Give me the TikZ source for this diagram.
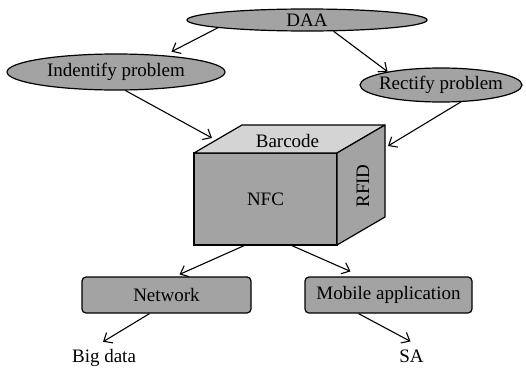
\documentclass[tikz,border=0pt]{standalone}
\usepackage{fontspec}
\setmainfont{Liberation Serif}
\usepackage{tikz}
\usetikzlibrary{calc,shapes.geometric,arrows.meta}

\definecolor{facegray}{HTML}{A3A3A3}
\definecolor{topgray}{HTML}{D4D4D4}

\begin{document}
\begin{tikzpicture}[>={Straight Barb[length=7pt,width=12pt]}, x=1pt, y=-1pt,
    every node/.style={font=\fontsize{19}{21}\selectfont},
    oval/.style={ellipse, draw, line width=1.2pt, fill=facegray, inner sep=0pt},
    tab/.style={draw, line width=1.2pt, fill=facegray, rounded corners=4pt, minimum height=36pt},
    link/.style={->, line width=1.1pt}]

    \useasboundingbox (0,0) rectangle (526,372);

    \node[oval, minimum width=240pt, minimum height=22pt, label=center:{DAA}] (daa) at (307,20) {};
    \node[oval, minimum width=218pt, minimum height=36pt, label=center:{Indentify problem}] (ident) at (116,72) {};
    \node[oval, minimum width=162pt, minimum height=34pt, label=center:{Rectify problem}] (rectify) at (441,85) {};

    \node[draw, line width=1.2pt, fill=facegray, outer sep=0pt, minimum width=143pt, minimum height=92pt] (nfc) at (265.5,199) {NFC};

    \coordinate (bnw) at ($(nfc.north west)+(48,-28)$);
    \coordinate (bne) at ($(nfc.north east)+(48,-28)$);
    \coordinate (bse) at ($(nfc.south east)+(48,-28)$);

    \draw[line width=1.2pt, line join=round, fill=topgray] (nfc.north west) -- (bnw) -- (bne) -- (nfc.north east) -- cycle;
    \draw[line width=1.2pt, line join=round, fill=facegray] (nfc.north east) -- (bne) -- (bse) -- (nfc.south east) -- cycle;

    \node (barcode) at ($(nfc.north)+(22,-12)$) {Barcode};
    \node[rotate=90] (rfid) at ($(nfc.east)+(26,-13)$) {RFID};

    \coordinate (barcodein) at ($(nfc.north west)+(18,-15)$);
    \coordinate (rfidin) at ($(bne)+(3,21)$);

    \node[tab, minimum width=169pt] (network) at (166.5,295) {Network};
    \node[tab, minimum width=167pt] (mobile) at (388.5,295) {Mobile application};

    \node[anchor=base] (bigdata) at (104,362.5) {Big data};
    \node[anchor=base] (sa) at (411.5,362.5) {SA};

    \draw[link, shorten >=8pt] (daa.185) -- (ident.19);
    \draw[link] (daa.337) -- (rectify.166);
    \draw[link] (ident.-63) -- (barcodein);
    \draw[link] (rectify.-41) -- (rfidin);
    \draw[link] ([xshift=-20pt]nfc.south) -- ([xshift=13pt,yshift=2pt]network.north);
    \draw[link] ([xshift=25pt]nfc.south) -- ([xshift=-38pt,yshift=5pt]mobile.north);
    \draw[link] ([xshift=-17pt]network.south) -- ([xshift=-1pt,yshift=4pt]bigdata.north);
    \draw[link] ([xshift=-30pt]mobile.south) -- ([xshift=-1pt,yshift=5pt]sa.north);

\end{tikzpicture}
\end{document}
